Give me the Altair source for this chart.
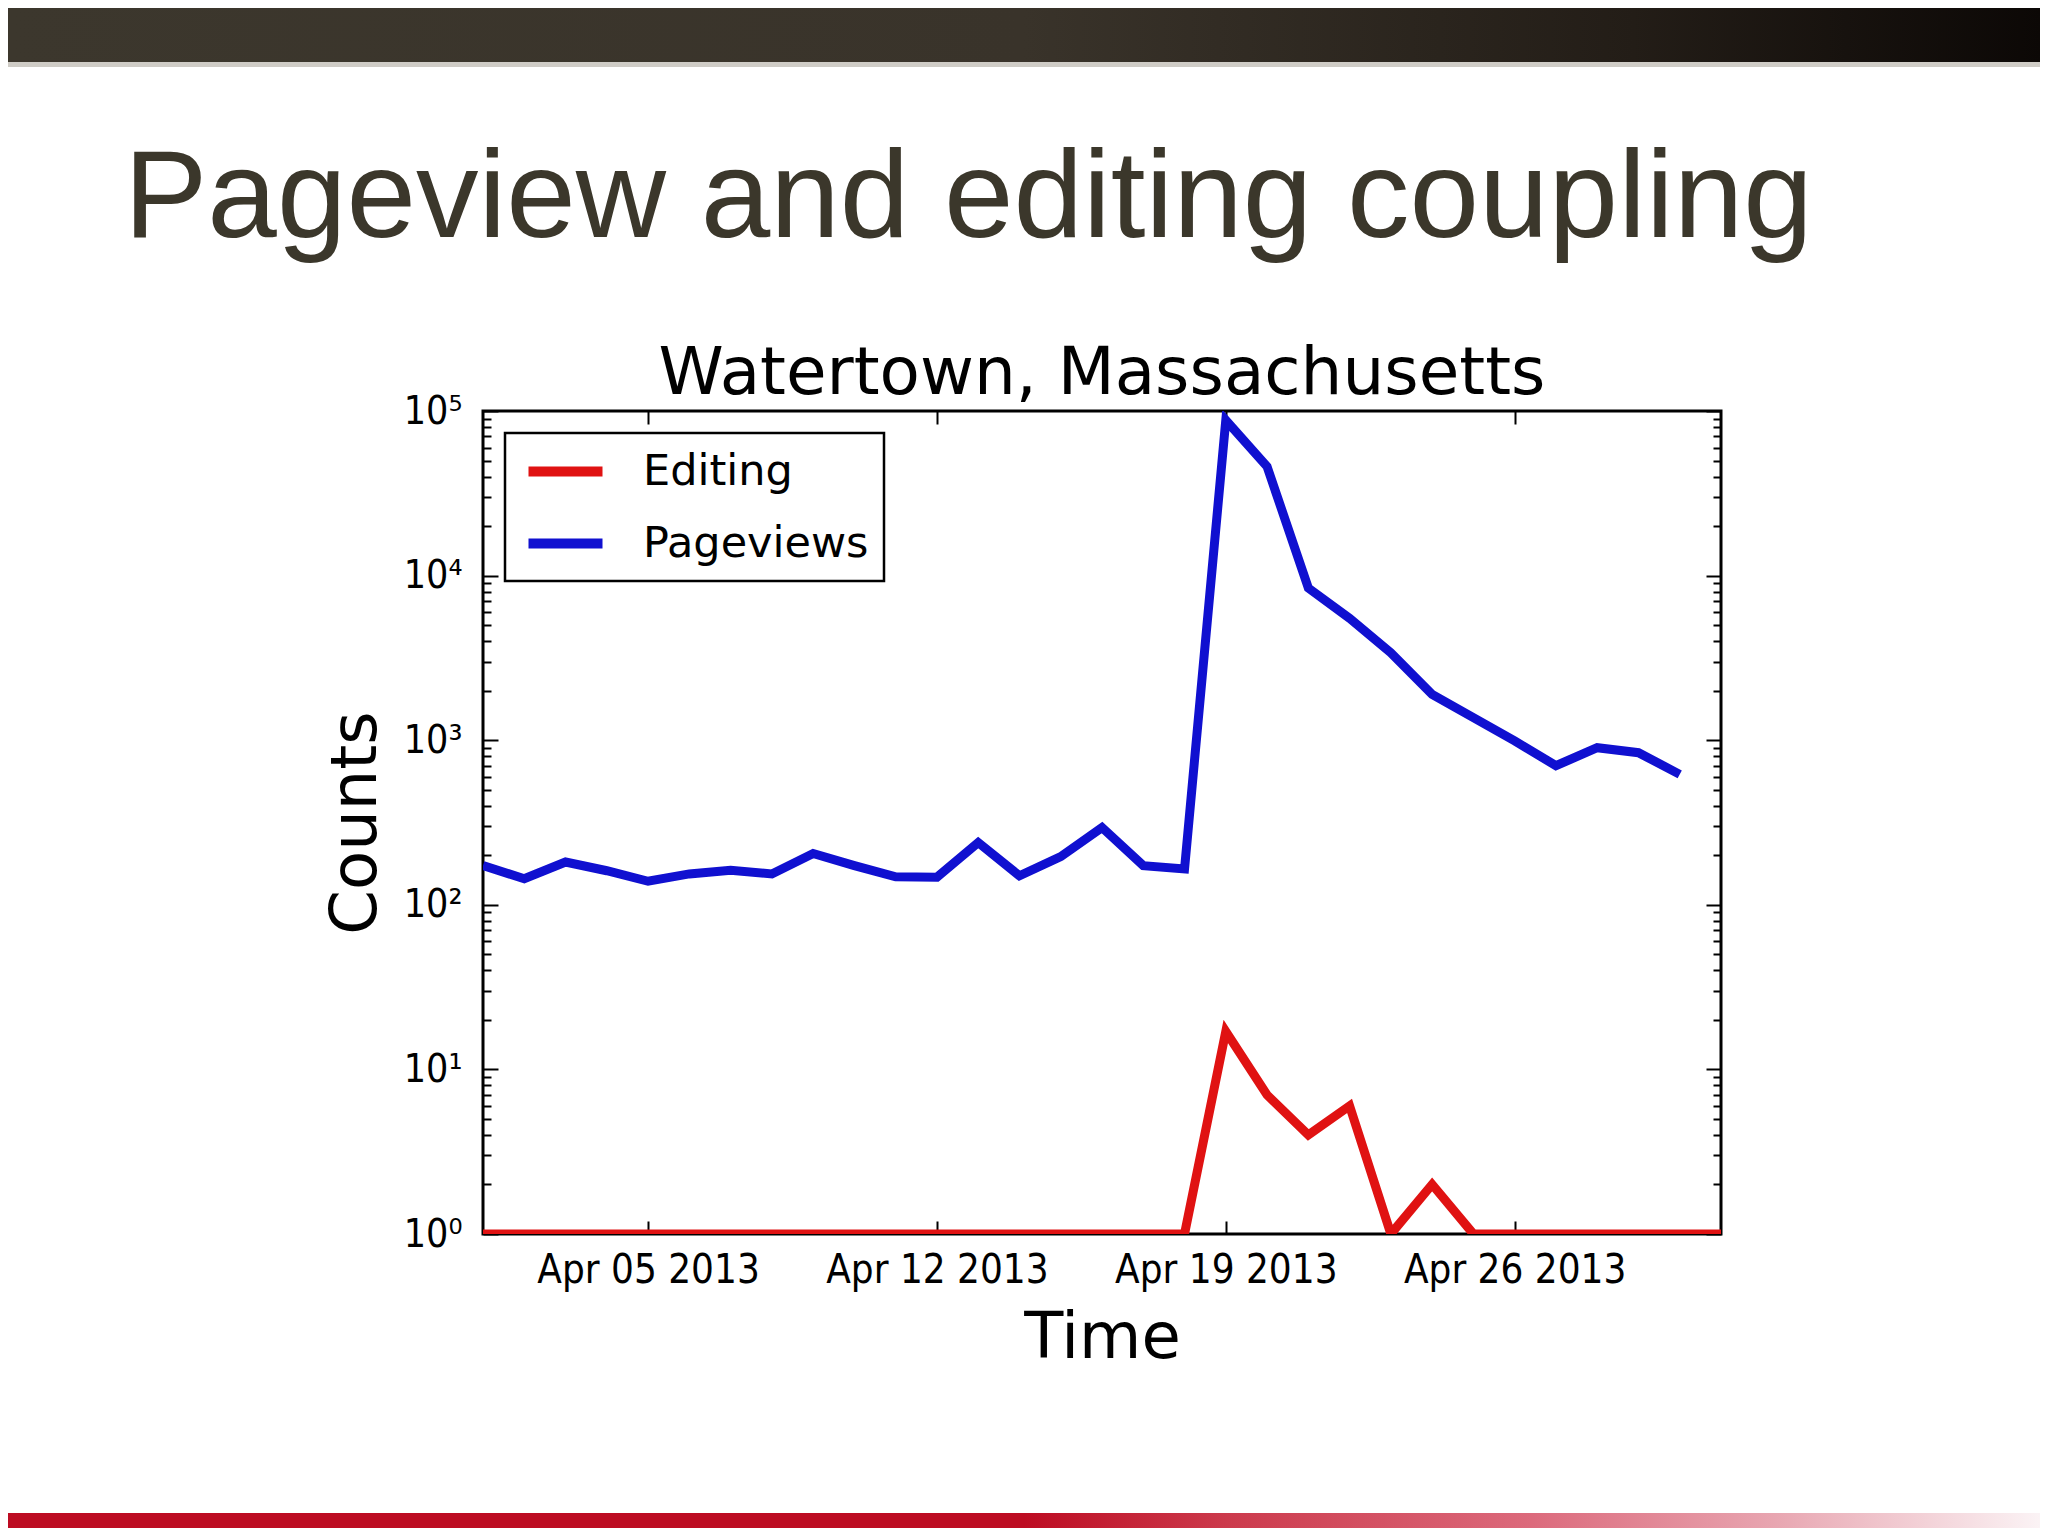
import altair as alt
import pandas as pd

# ---------------- data ----------------
page_dates = ["2013-04-01", "2013-04-02", "2013-04-03", "2013-04-04", "2013-04-05",
              "2013-04-06", "2013-04-07", "2013-04-08", "2013-04-09", "2013-04-10",
              "2013-04-11", "2013-04-12", "2013-04-13", "2013-04-14", "2013-04-15",
              "2013-04-16", "2013-04-17", "2013-04-18", "2013-04-19", "2013-04-20",
              "2013-04-21", "2013-04-22", "2013-04-23", "2013-04-24", "2013-04-25",
              "2013-04-26", "2013-04-27", "2013-04-28", "2013-04-29", "2013-04-30"]
pageviews = [173, 144, 182, 161, 139, 154, 162, 154, 205, 173,
             148, 147, 239, 150, 196, 295, 173, 165, 88000, 46000,
             8400, 5500, 3400, 1900, 1370, 990, 700, 900, 840, 620]

edit_dates = page_dates + ["2013-05-01"]
editing = [1, 1, 1, 1, 1, 1, 1, 1, 1, 1,
           1, 1, 1, 1, 1, 1, 1, 1, 17, 7,
           4, 6, 1, 2, 1, 1, 1, 1, 1, 1, 1]

series_names = ["Editing", "Pageviews"]
series_colors = ["#e01212", "#1010d0"]

x_tick_days = [5, 12, 19, 26]
y_major = [1, 10, 100, 1000, 10000, 100000]
y_minor = [2, 3, 4, 5, 6, 7, 8, 9,
           20, 30, 40, 50, 60, 70, 80, 90,
           200, 300, 400, 500, 600, 700, 800, 900,
           2000, 3000, 4000, 5000, 6000, 7000, 8000, 9000,
           20000, 30000, 40000, 50000, 60000, 70000, 80000, 90000]

slide_title = "Pageview and editing coupling"
chart_title = "Watertown, Massachusetts"

df = pd.concat([
    pd.DataFrame({"date": edit_dates, "count": editing, "series": "Editing"}),
    pd.DataFrame({"date": page_dates, "count": pageviews, "series": "Pageviews"}),
], ignore_index=True)

# ---------------- layout ----------------
W, H = 1238, 823
PAD_L, PAD_T = 475, 403
PAD_R = 2032 - PAD_L - W
PAD_B = 1520 - PAD_T - H

TICK_FONT = "DejaVu Sans Condensed, DejaVu Sans"
TEXT_FONT = "DejaVu Sans"


def dt(m, d):
    return alt.DateTime(year=2013, month=m, date=d, utc=True)


xs = alt.Scale(type="utc", domain=[dt(4, 1), dt(5, 1)], nice=False)
ys = alt.Scale(type="log", domain=[1, 100000], nice=False)
x_ticks = [dt(4, d) for d in x_tick_days]

sup_expr = ("'10' + ['\u2070','\u00b9','\u00b2','\u00b3','\u2074','\u2075']"
            "[round(log(datum.value)/LN10)]")

lines = alt.Chart(df).mark_line(strokeWidth=9, clip=True).encode(
    x=alt.X("date:T", scale=xs, axis=alt.Axis(
        orient="bottom", title="Time", format="%b %d %Y", values=x_ticks,
        ticks=False, domain=False, grid=False, labelFlush=False, labelOverlap=False,
        labelLimit=0,
        labelFont=TICK_FONT, labelFontSize=40, labelColor="black", labelPadding=16,
        titleFont=TEXT_FONT, titleFontSize=64, titleFontWeight="normal",
        titleColor="black", titlePadding=16)),
    y=alt.Y("count:Q", scale=ys, axis=alt.Axis(
        orient="left", title="Counts", values=y_major, labelExpr=sup_expr,
        ticks=False, domain=False, grid=False, labelFlush=False, labelOverlap=False,
        labelLimit=0,
        labelFont=TICK_FONT, labelFontSize=39, labelColor="black", labelPadding=21,
        titleFont=TEXT_FONT, titleFontSize=64, titleFontWeight="normal",
        titleColor="black", titlePadding=15)),
    color=alt.Color("series:N", scale=alt.Scale(domain=series_names, range=series_colors),
                    legend=alt.Legend(
                        title=None, orient="top-left", offset=22, padding=15,
                        strokeColor="black", fillColor="white",
                        labelFont=TEXT_FONT, labelFontSize=43, labelColor="black",
                        labelLimit=0, labelOffset=54, symbolOffset=22,
                        symbolType="M-2,0H2", symbolSize=1369,
                        symbolStrokeWidth=10, rowPadding=26)),
)


def tick_layer(channel, orient, offset, values, size):
    ax = alt.Axis(orient=orient, offset=offset, values=values, labels=False,
                  domain=False, grid=False, ticks=True, tickSize=size,
                  tickWidth=2, tickColor="black", title=None)
    if channel == "x":
        enc = dict(x=alt.X("date:T", scale=xs, axis=ax),
                   y=alt.Y("count:Q", scale=ys, axis=None))
    else:
        enc = dict(x=alt.X("date:T", scale=xs, axis=None),
                   y=alt.Y("count:Q", scale=ys, axis=ax))
    return alt.Chart(df).mark_line(opacity=0).encode(**enc)


ticks = [
    tick_layer("x", "top", -H, x_ticks, 13),      # bottom edge, inward
    tick_layer("x", "bottom", -H, x_ticks, 13),   # top edge, inward
    tick_layer("y", "right", -W, y_major, 15),    # left edge major
    tick_layer("y", "right", -W, y_minor, 8),     # left edge minor
    tick_layer("y", "left", -W, y_major, 15),     # right edge major
    tick_layer("y", "left", -W, y_minor, 8),      # right edge minor
]

deco = pd.DataFrame({"k": [0]})
top_bar = alt.Chart(deco).mark_rect(
    color=alt.LinearGradient(gradient="linear", x1=0, x2=1, y1=0, y2=0, stops=[
        alt.GradientStop(color="#3c372d", offset=0),
        alt.GradientStop(color="#39332a", offset=0.5),
        alt.GradientStop(color="#231d17", offset=0.8),
        alt.GradientStop(color="#0c0806", offset=1)])
).encode(x=alt.value(-PAD_L), x2=alt.value(W + PAD_R),
         y=alt.value(-PAD_T), y2=alt.value(-PAD_T + 54))
top_line = alt.Chart(deco).mark_rect(color="#cfccc6").encode(
    x=alt.value(-PAD_L), x2=alt.value(W + PAD_R),
    y=alt.value(-PAD_T + 54), y2=alt.value(-PAD_T + 59))
bottom_bar = alt.Chart(deco).mark_rect(
    color=alt.LinearGradient(gradient="linear", x1=0, x2=1, y1=0, y2=0, stops=[
        alt.GradientStop(color="#bd0c22", offset=0),
        alt.GradientStop(color="#bd0c22", offset=0.5),
        alt.GradientStop(color="#cc3a4c", offset=0.6),
        alt.GradientStop(color="#dc6a7c", offset=0.75),
        alt.GradientStop(color="#e8a6b1", offset=0.87),
        alt.GradientStop(color="#fbf3f5", offset=1)])
).encode(x=alt.value(-PAD_L), x2=alt.value(W + PAD_R),
         y=alt.value(1505 - PAD_T), y2=alt.value(H + PAD_B))
title_text = alt.Chart(deco).mark_text(
    text=slide_title, font="Liberation Sans", fontSize=125, color="#3b372b",
    align="left", baseline="alphabetic"
).encode(x=alt.value(124 - 8 - PAD_L), y=alt.value(237 - 8 - PAD_T))
chart_title_text = alt.Chart(deco).mark_text(
    text=chart_title, font=TEXT_FONT, fontSize=66, color="black",
    align="center", baseline="alphabetic"
).encode(x=alt.value(W / 2), y=alt.value(-17))

chart = alt.layer(
    top_bar, top_line, bottom_bar, title_text, chart_title_text, *ticks, lines
).resolve_axis(x="independent", y="independent").properties(
    width=W, height=H,
    padding={"left": PAD_L, "top": PAD_T, "right": PAD_R, "bottom": PAD_B},
    autosize=alt.AutoSizeParams(type="none"),
    background="white",
).configure_view(stroke="black", strokeWidth=3).configure_legend(strokeWidth=2.5)

chart.save("out.html", embed_options={"renderer": "svg", "actions": False})
